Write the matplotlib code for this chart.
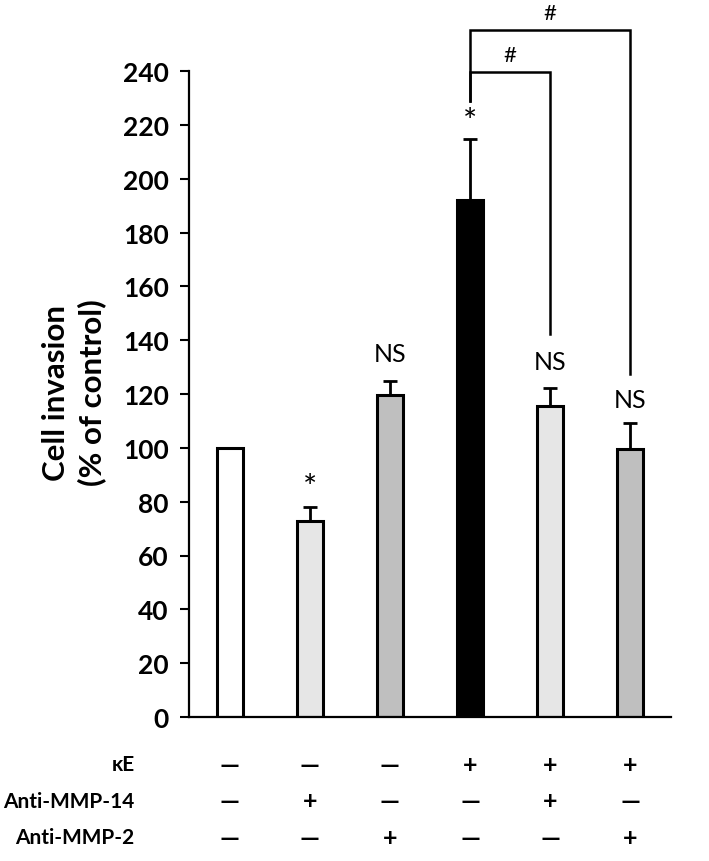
import matplotlib
matplotlib.use('Agg')
import matplotlib.pyplot as plt
import numpy as np

plt.rcParams['font.family'] = ['Lato', 'DejaVu Sans']

# ============================================ data
values = [100, 73, 119.7, 191.9, 115.7, 99.6]
errors = [0, 5, 5, 23, 6.5, 9.6]
colors = ['#ffffff', '#e6e6e6', '#bfbfbf', '#000000', '#e6e6e6', '#bfbfbf']
marks = ['', '*', 'NS', '*', 'NS', 'NS']
mark_y = [None, 85, 135, 221, 132, 118]
row_names = ['\u03baE', 'Anti-MMP-14', 'Anti-MMP-2']
rows = [['-', '-', '-', '+', '+', '+'],
        ['-', '+', '-', '-', '+', '-'],
        ['-', '-', '+', '-', '-', '+']]
# brackets: (x_from, x_to, y_top, y_left_end, y_right_end)
brackets = [(3, 4, 239.8, 229, 142.4), (3, 5, 255.4, 229, 127.5)]

# ============================================ plot
fig = plt.figure(figsize=(7.09, 8.62), dpi=100)
ax = fig.add_axes([189 / 709, 1 - 718 / 862, 482 / 709, 646 / 862])

x = np.arange(len(values))
ax.bar(x, values, width=0.32, color=colors, edgecolor='black', linewidth=2.2, zorder=2)
ax.errorbar(x[1:], values[1:], yerr=[np.zeros(5), errors[1:]], fmt='none',
            ecolor='black', elinewidth=2, capsize=5, capthick=2, zorder=1)

for i, m in enumerate(marks):
    if m == '*':
        ax.text(i, mark_y[i], m, ha='center', va='center', fontsize=24)
    elif m:
        ax.text(i, mark_y[i], m, ha='center', va='center', fontsize=18)

for x0, x1, ytop, yl, yr in brackets:
    ax.plot([x0, x0, x1, x1], [yl, ytop, ytop, yr], color='black', lw=1.8,
            clip_on=False, solid_joinstyle='miter')
    ax.text((x0 + x1) / 2, ytop + 2.5, '#', ha='center', va='bottom', fontsize=16)

ax.set_xlim(-0.51, 5.51)
ax.set_ylim(0, 240)
ax.set_yticks(np.arange(0, 241, 20))
ax.set_xticks([])
for lbl in ax.get_yticklabels():
    lbl.set_fontweight('bold')
ax.tick_params(axis='y', direction='out', length=6.5, width=1.5, labelsize=19, pad=8)
ax.spines['top'].set_visible(False)
ax.spines['right'].set_visible(False)
ax.spines['left'].set_linewidth(1.6)
ax.spines['bottom'].set_linewidth(1.6)

fig.text(74 / 709, 1 - 393 / 862, 'Cell invasion\n(% of control)', rotation=90,
         ha='center', va='center', fontsize=22.5, fontweight='bold', linespacing=1.3)

# condition table under the axis
trans = ax.get_xaxis_transform()
row_y = [-0.0728, -0.130, -0.186]
for name, signs, yy in zip(row_names, rows, row_y):
    ax.text(-1.19, yy, name, transform=trans, ha='right', va='center',
            fontsize=15, fontweight='bold')
    for i, s in enumerate(signs):
        txt = '\u2014' if s == '-' else '+'
        ax.text(i, yy, txt, transform=trans, ha='center', va='center',
                fontsize=18, fontweight='bold')

plt.savefig('out.png', dpi=100)
